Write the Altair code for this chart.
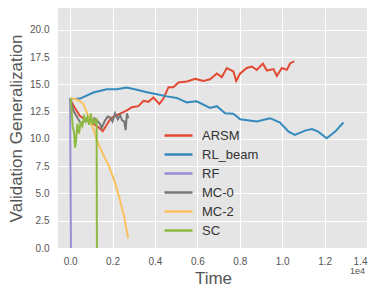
import altair as alt
import pandas as pd

series_names = ["ARSM", "RL_beam", "RF", "MC-0", "MC-2", "SC"]
series_colors = ["#E24A33", "#348ABD", "#988ED5", "#777777", "#FBC15E", "#8EBA42"]

arsm_t = [0, 236, 470, 785, 1100, 1380, 1540, 1780, 1920, 2120, 2400, 2720, 2910, 3220, 3460,
          3690, 3930, 4210, 4400, 4640, 4870, 5110, 5500, 5660, 5900, 6290, 6600, 6920, 7150,
          7390, 7700, 7830, 8020, 8330, 8570, 8800, 9090, 9280, 9590, 9750, 9985, 10220, 10380, 10570]
arsm_v = [13.64, 12.8, 12.1, 11.7, 11.4, 11.0, 10.7, 11.45, 11.9, 12.1, 12.35, 12.66, 12.9, 13.0, 13.5,
          13.4, 13.8, 13.2, 13.7, 14.74, 14.74, 15.17, 15.26, 15.35, 15.5, 15.32, 15.47, 16.0, 15.66,
          16.5, 16.18, 15.32, 16.0, 16.5, 16.64, 16.33, 16.9, 16.27, 16.4, 15.78, 16.5, 16.33, 16.94, 17.1]

rl_t = [0, 470, 1100, 1730, 2200, 2670, 3150, 3620, 4090, 4560, 5030, 5500, 5970, 6600, 6920,
        7310, 7700, 8020, 8800, 9430, 9900, 10300, 10600, 11080, 11400, 11700, 12100, 12500, 12890]
rl_v = [13.64, 13.7, 14.25, 14.55, 14.55, 14.7, 14.5, 14.28, 14.1, 13.9, 13.76, 13.35, 13.45, 12.84, 13.0,
        12.36, 12.3, 11.8, 11.6, 11.9, 11.5, 10.67, 10.37, 10.76, 10.9, 10.67, 10.06, 10.67, 11.5]

rf_t = [0, 40]
rf_v = [13.7, 0.0]

mc0_t = [0, 150, 315, 450, 550, 700, 785, 900, 1020, 1140, 1260, 1400, 1490, 1650, 1780, 1890,
         2000, 2120, 2250, 2360, 2450, 2550, 2620, 2680, 2750]
mc0_v = [13.7, 12.6, 12.05, 11.6, 11.3, 11.8, 11.9, 11.5, 11.4, 11.9, 11.7, 11.4, 11.0, 11.7, 12.05, 11.96,
         11.6, 12.35, 11.8, 12.2, 11.7, 11.6, 10.8, 12.35, 11.9]

mc2_t = [0, 250, 470, 630, 790, 950, 1100, 1290, 1525, 1840, 2075, 2310, 2550, 2735]
mc2_v = [13.7, 13.65, 13.45, 13.2, 12.4, 11.6, 10.9, 9.75, 8.7, 7.46, 6.24, 4.7, 2.87, 0.89]

sc_t = [0, 30, 125, 190, 236, 280, 345, 425, 500, 580, 660, 740, 815, 900, 975, 1050, 1130, 1210, 1250, 1265]
sc_v = [13.7, 13.67, 11.1, 10.6, 9.2, 9.8, 11.4, 10.5, 11.6, 11.2, 12.05, 11.6, 12.0, 11.3, 12.35, 11.3,
        11.75, 11.44, 11.9, 0.0]

x_ticks = [0, 2000, 4000, 6000, 8000, 10000, 12000, 14000]
y_ticks = [0, 2.5, 5, 7.5, 10, 12.5, 15, 17.5, 20]

all_t = [arsm_t, rl_t, rf_t, mc0_t, mc2_t, sc_t]
all_v = [arsm_v, rl_v, rf_v, mc0_v, mc2_v, sc_v]

rows = []
for name, ts, vs in zip(series_names, all_t, all_v):
    for i, (t, v) in enumerate(zip(ts, vs)):
        rows.append({"series": name, "time": t, "value": v, "order": i})
df = pd.DataFrame(rows)

FONT = "Liberation Sans"

color_scale = alt.Scale(domain=series_names, range=series_colors)
x_enc = alt.X("time:Q", scale=alt.Scale(domain=[-570, 14000], nice=False, zero=False),
              axis=alt.Axis(values=x_ticks, labelExpr="format(datum.value / 10000, '.1f')",
                            title="Time", titleFontSize=17, titleFontWeight="normal",
                            titleColor="#555555", titleFont=FONT, titleX=155, titleY=35,
                            titleBaseline="alphabetic", titleAnchor="middle", labelFont=FONT,
                            labelFontSize=10, labelColor="#555555", labelPadding=8,
                            ticks=False, tickSize=0, domain=False, grid=True,
                            gridColor="white", gridWidth=1, gridOpacity=1))
y_enc = alt.Y("value:Q", scale=alt.Scale(domain=[0, 22], nice=False),
              axis=alt.Axis(values=y_ticks, format=".1f", title="Validation Generalization",
                            titleFontSize=17, titleFontWeight="normal", titleColor="#555555",
                            titleFont=FONT, titleX=-37, titleY=120, titleAngle=-90,
                            titleBaseline="alphabetic", titleAlign="center",
                            labelFont=FONT, labelFontSize=10, labelColor="#555555",
                            labelPadding=9, ticks=False, tickSize=0, domain=False, grid=True,
                            gridColor="white", gridWidth=1, gridOpacity=1))

layers = []
for name in series_names:
    layers.append(
        alt.Chart(df).transform_filter(alt.datum.series == name)
        .mark_line(strokeWidth=2, clip=True)
        .encode(
            x=x_enc, y=y_enc, order="order:Q",
            color=alt.Color("series:N", scale=color_scale,
                            legend=alt.Legend(title=None, orient="none", legendX=112, legendY=119,
                                              symbolType="M-2,0H2", symbolSize=196,
                                              symbolStrokeWidth=2.5, labelFont=FONT,
                                              labelFontSize=13, labelColor="#333333",
                                              labelOffset=15, rowPadding=3, padding=0)),
        )
    )

offset_text = alt.Chart(pd.DataFrame({"t": ["1e4"]})).mark_text(
    align="right", baseline="alphabetic", fontSize=9, font=FONT, color="#555555"
).encode(x=alt.value(307), y=alt.value(266), text="t:N")

chart = alt.layer(*layers, offset_text).properties(
    width=309, height=240,
    autosize=alt.AutoSizeParams(type="none"),
    padding={"left": 50, "top": 0, "right": 7, "bottom": 38},
).configure_view(fill="#E5E5E5", stroke=None)

chart.save("out.html", embed_options={"renderer": "svg", "actions": False})
